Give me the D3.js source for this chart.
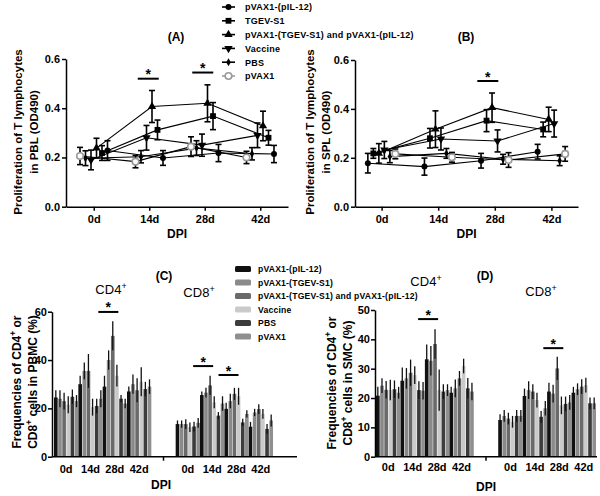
<!DOCTYPE html>
<html><head><meta charset="utf-8">
<script src="https://cdn.jsdelivr.net/npm/d3@7"></script>
<style>
body{margin:0;background:#fff}
svg{display:block;font-family:"Liberation Sans",Arial,sans-serif}
</style>
</head><body>
<svg id="c" width="600" height="496"></svg>
<script>
// ---------- DATA ----------
const days = ["0d","14d","28d","42d"];
const groups = ["pVAX1-(pIL-12)","TGEV-S1","pVAX1-(TGEV-S1) and pVAX1-(pIL-12)","Vaccine","PBS","pVAX1"];
const barGroups = ["pVAX1-(pIL-12)","pVAX1-(TGEV-S1)","pVAX1-(TGEV-S1) and pVAX1-(pIL-12)","Vaccine","PBS","pVAX1"];
const odTicks = [0,0.2,0.4,0.6];

// (A) PBL, OD490 (rows follow groups)
const pblMean = [
  [0.228,0.198,0.218,0.214],
  [0.218,0.312,0.368,0.280],
  [0.238,0.407,0.420,0.328],
  [0.190,0.280,0.250,0.290],
  [0.197,0.203,0.238,0.215],
  [0.206,0.183,0.244,0.200]
];
const pblErr = [
  [0.040,0.030,0.035,0.035],
  [0.030,0.040,0.055,0.030],
  [0.040,0.065,0.075,0.060],
  [0.040,0.050,0.045,0.050],
  [0.030,0.025,0.030,0.025],
  [0.035,0.025,0.040,0.025]
];
// (B) SPL, OD490
const splMean = [
  [0.178,0.164,0.188,0.225],
  [0.218,0.280,0.352,0.316],
  [0.218,0.317,0.405,0.357],
  [0.232,0.277,0.269,0.340],
  [0.205,0.218,0.194,0.188],
  [0.216,0.202,0.191,0.216]
];
const splErr = [
  [0.040,0.035,0.030,0.030],
  [0.020,0.040,0.045,0.030],
  [0.040,0.075,0.060,0.050],
  [0.035,0.045,0.045,0.055],
  [0.025,0.020,0.020,0.020],
  [0.020,0.020,0.030,0.030]
];
// (C) PBMC, %
const pbmcCD4 = [
  [24.5,30.0,29.0,27.0],
  [24.0,35.5,40.0,30.0],
  [23.0,35.5,50.0,27.5],
  [21.5,20.5,33.5,31.0],
  [24.8,21.0,24.0,28.0],
  [23.0,24.0,22.0,29.0]
];
const pbmcCD4Err = [
  [3.0,3.5,4.5,2.0],
  [3.5,3.5,4.0,4.0],
  [3.5,7.0,6.0,5.0],
  [3.5,3.5,4.5,6.0],
  [3.0,3.0,1.5,3.0],
  [2.5,3.5,2.0,3.0]
];
const pbmcCD8 = [
  [13.5,25.5,19.8,12.4],
  [13.5,26.5,23.0,18.3],
  [13.5,29.5,26.0,19.7],
  [12.2,22.5,25.0,17.7],
  [12.5,17.0,14.2,11.5],
  [14.0,22.0,17.7,15.0]
];
const pbmcCD8Err = [
  [1.5,1.5,2.5,2.0],
  [1.5,2.0,3.0,1.5],
  [2.0,4.0,2.5,2.0],
  [2.0,2.5,3.5,2.0],
  [2.0,1.5,1.5,2.0],
  [2.0,3.0,1.5,2.5]
];
// (D) SMC, %
const smcCD4 = [
  [20.8,25.9,33.2,21.8],
  [24.2,26.7,32.7,23.3],
  [22.8,28.6,38.4,26.7],
  [22.7,27.8,22.7,30.9],
  [23.0,22.7,22.2,23.3],
  [21.8,22.5,22.7,22.2]
];
const smcCD4Err = [
  [3.0,4.5,5.0,2.0],
  [2.5,3.5,5.0,3.0],
  [3.0,4.5,5.0,2.5],
  [3.5,3.0,7.0,2.5],
  [3.0,3.0,2.5,3.5],
  [2.0,3.0,2.0,3.0]
];
const smcCD8 = [
  [12.5,20.7,22.2,21.8],
  [13.9,22.7,21.5,23.0],
  [13.0,22.2,30.1,23.9],
  [11.9,19.3,17.5,24.4],
  [13.9,13.6,18.0,18.2],
  [13.9,16.5,18.5,18.2]
];
const smcCD8Err = [
  [2.0,2.5,3.0,2.0],
  [2.0,3.0,3.0,2.0],
  [2.0,2.5,4.0,2.5],
  [2.0,2.5,3.0,2.5],
  [2.0,2.0,2.5,2.0],
  [2.0,2.5,2.5,2.0]
];
// significance marks: [time point, level, horizontal shift]
const sigA = [["14d",0.520,-1],["28d",0.545,-2]];
const sigB = [["28d",0.514,-7]];
const sigC = [["CD4|28d",59.9,-6.5],["CD8|14d",37.5,-9],["CD8|28d",33.8,-8]];
const sigD = [["CD4|28d",46.9,-9],["CD8|28d",37.0,-6]];

// ---------- STYLE ----------
const FONT = '"Liberation Sans",Arial,sans-serif';
const barColors = ["#111111","#8a8a8a","#6a6a6a","#cacaca","#3c3c3c","#8f8f8f"];
const svg = d3.select("#c");

function styleAxis(g, fs){
  g.selectAll("path,line").attr("stroke","#000").attr("stroke-width",1.5);
  g.selectAll("text").attr("font-size",fs).attr("font-weight","bold").attr("fill","#000").attr("font-family",FONT);
}
function markerPath(name, size){
  const t = {"pVAX1-(pIL-12)":d3.symbolCircle,"TGEV-S1":d3.symbolSquare,
    "pVAX1-(TGEV-S1) and pVAX1-(pIL-12)":d3.symbolTriangle,"Vaccine":d3.symbolTriangle,
    "PBS":d3.symbolDiamond,"pVAX1":d3.symbolCircle}[name];
  const s = {"pVAX1-(pIL-12)":28,"TGEV-S1":34,"pVAX1-(TGEV-S1) and pVAX1-(pIL-12)":30,
    "Vaccine":30,"PBS":18,"pVAX1":34}[name];
  return d3.symbol().type(t).size(size||s)();
}
function drawMarker(g, name, cx, cy){
  const p = g.append("path").attr("d", markerPath(name))
    .attr("transform", `translate(${cx},${cy})` + (name==="Vaccine" ? " rotate(180)" : ""));
  if(name==="pVAX1") p.attr("fill","#fff").attr("stroke","#9a9a9a").attr("stroke-width",1.6);
  else p.attr("fill","#000");
}
function ylabel(x, y, lines, fs){
  lines.forEach((ln,i)=>{
    const t = svg.append("text").attr("transform",`translate(${x+i*16},${y}) rotate(-90)`)
      .attr("text-anchor","middle").attr("dy","0.35em")
      .attr("font-size",fs).attr("font-weight","bold").attr("font-family",FONT);
    ln.forEach(part=>{
      if(part.sup) t.append("tspan").attr("baseline-shift","super").attr("font-size",fs*0.7).text(part.t);
      else t.append("tspan").text(part.t);
    });
  });
}
function sigMark(x, y, halfW){
  svg.append("line").attr("x1",x-halfW).attr("x2",x+halfW).attr("y1",y).attr("y2",y)
    .attr("stroke","#000").attr("stroke-width",2);
  svg.append("text").attr("x",x).attr("y",y+0.5).attr("text-anchor","middle")
    .attr("font-size",14).attr("font-weight","bold").attr("font-family",FONT).text("*");
}

// ---------- LINE PANELS ----------
function linePanel(o){
  const x = d3.scalePoint().domain(days).range([o.x0,o.x1]).padding(o.pad);
  const y = d3.scaleLinear().domain([0,0.6]).range([o.yb,o.yt]);
  const inner = d3.scaleBand().domain(o.order).range([-16.5,16.5]);
  const px = (name,d)=> x(d) + inner(name) + inner.bandwidth()/2;

  const ay = svg.append("g").attr("transform",`translate(${o.x0},0)`)
    .call(d3.axisLeft(y).tickValues(odTicks).tickFormat(d3.format(".1f")).tickSize(4).tickSizeOuter(0).tickPadding(2));
  styleAxis(ay, 11);
  const ax = svg.append("g").attr("transform",`translate(0,${o.yb})`)
    .call(d3.axisBottom(x).tickSize(4).tickSizeOuter(0).tickPadding(5));
  styleAxis(ax, 11);

  const g = svg.append("g");
  groups.forEach((name,i)=>{
    const pts = days.map((d,j)=>[px(name,d), y(o.mean[i][j])]);
    g.append("path").attr("d", d3.line()(pts)).attr("fill","none")
      .attr("stroke", "#000").attr("stroke-width",1.1);
  });
  groups.forEach((name,i)=>{
    days.forEach((d,j)=>{
      const cx = px(name,d), m = o.mean[i][j], e = o.err[i][j];
      g.append("line").attr("x1",cx).attr("x2",cx).attr("y1",y(m-e)).attr("y2",y(m+e))
        .attr("stroke","#000").attr("stroke-width",1.6);
      [m-e,m+e].forEach(v=> g.append("line").attr("x1",cx-3).attr("x2",cx+3).attr("y1",y(v)).attr("y2",y(v))
        .attr("stroke","#000").attr("stroke-width",1.6));
    });
  });
  groups.forEach((name,i)=>{
    days.forEach((d,j)=> drawMarker(g, name, px(name,d), y(o.mean[i][j])));
  });
  o.sig.forEach(s=> sigMark(x(s[0])+s[2], y(s[1]), 10.5));

  svg.append("text").attr("x",o.titleX).attr("y",41).attr("text-anchor","middle")
    .attr("font-size",12).attr("font-weight","bold").attr("font-family",FONT).text(o.title);
  svg.append("text").attr("x",(o.x0+o.x1)/2).attr("y",238).attr("text-anchor","middle")
    .attr("font-size",12).attr("font-weight","bold").attr("font-family",FONT).text("DPI");
  ylabel(o.labX, 132, [[{t:"Proliferation of T lymphocytes"}],[{t:o.tissue}]], 11.5);
}

linePanel({x0:66,x1:288,pad:0.5,yb:206.7,yt:59,mean:pblMean,err:pblErr,
  order:groups.slice().reverse(),sig:sigA,title:"(A)",titleX:176,labX:18,tissue:"in PBL (OD490)"});
linePanel({x0:355,x1:578,pad:0.47,yb:206.7,yt:60,mean:splMean,err:splErr,
  order:groups,sig:sigB,title:"(B)",titleX:466,labX:310,tissue:"in SPL (OD490)"});

// top legend
groups.forEach((name,i)=>{
  const yy = 7 + i*13.8;
  svg.append("line").attr("x1",222).attr("x2",235).attr("y1",yy).attr("y2",yy)
    .attr("stroke",name==="pVAX1"?"#9a9a9a":"#000").attr("stroke-width",1.6);
  drawMarker(svg, name, 228.5, yy);
  svg.append("text").attr("x",245).attr("y",yy+3.3).attr("font-size",9).attr("font-weight","bold")
    .attr("letter-spacing",0.25).attr("font-family",FONT).text(name);
});

// ---------- BAR PANELS ----------
const slots = days.map(d=>"CD4|"+d).concat(["gap"], days.map(d=>"CD8|"+d));
function barPanel(o){
  const x = d3.scaleBand().domain(slots).range([o.x0,o.x1]);
  const inner = d3.scaleBand().domain(barGroups).range([0,x.bandwidth()]).paddingInner(0.12);
  const y = d3.scaleLinear().domain([0,o.ymax]).range([456.7,o.yt]);

  const g = svg.append("g");
  [["CD4",o.cd4,o.cd4e],["CD8",o.cd8,o.cd8e]].forEach(([cell,vals,errs])=>{
    barGroups.forEach((name,i)=>{
      days.forEach((d,j)=>{
        const bx = x(cell+"|"+d) + inner(name), v = vals[i][j], e = errs[i][j];
        g.append("rect").attr("x",bx).attr("y",y(v)).attr("width",inner.bandwidth())
          .attr("height",y(0)-y(v)).attr("fill",barColors[i]);
        const cx = bx + inner.bandwidth()/2;
        g.append("line").attr("x1",cx).attr("x2",cx).attr("y1",y(v-e)).attr("y2",y(v+e))
          .attr("stroke","#111").attr("stroke-width",1.3);
      });
    });
  });

  const ay = svg.append("g").attr("transform",`translate(${o.ax},0)`)
    .call(d3.axisLeft(y).ticks(o.ymax/o.step).tickSize(4).tickSizeOuter(0).tickPadding(1));
  styleAxis(ay, 11);
  const ax = svg.append("g").attr("transform",`translate(0,456.7)`)
    .call(d3.axisBottom(x).tickSize(4).tickSizeOuter(0).tickPadding(o.tp)
      .tickFormat(d=> d==="gap" ? "" : d.split("|")[1]));
  ax.select(".domain").attr("d",`M${o.ax},0H${o.axEnd}`);
  ax.selectAll(".tick").filter(d=>d!=="gap").select("line").remove();
  styleAxis(ax, 11);

  o.sig.forEach(s=> sigMark(x(s[0])+x.bandwidth()/2+s[2], y(s[1]), 10));

  svg.append("text").attr("x",o.titleX).attr("y",280).attr("text-anchor","middle")
    .attr("font-size",12).attr("font-weight","bold").attr("font-family",FONT).text(o.title);
  svg.append("text").attr("x",o.dpiX).attr("y",o.dpiY).attr("text-anchor","middle")
    .attr("font-size",12).attr("font-weight","bold").attr("font-family",FONT).text("DPI");
  [["CD4",o.cd4X,o.cd4Y],["CD8",o.cd8X,o.cd8Y]].forEach(([lab,tx,ty])=>{
    const t = svg.append("text").attr("x",tx).attr("y",ty).attr("text-anchor","middle")
      .attr("font-size",13).attr("font-family",FONT);
    t.append("tspan").text(lab);
    t.append("tspan").attr("baseline-shift","super").attr("font-size",9).text("+");
  });
  ylabel(o.labX, o.labY, [
    [{t:"Frequencies of CD4"},{t:"+",sup:true},{t:" or"}],
    [{t:"CD8"},{t:"+",sup:true},{t:" cells in "+o.tissue+" (%)"}]
  ], 12);
}

barPanel({x0:54,x1:273,ax:52,axEnd:297,ymax:60,step:20,yt:311.7,cd4:pbmcCD4,cd4e:pbmcCD4Err,cd8:pbmcCD8,cd8e:pbmcCD8Err,
  sig:sigC,title:"(C)",titleX:164,dpiX:161,dpiY:489,tp:5,cd4X:111,cd4Y:294,cd8X:199,cd8Y:297,
  labX:17,labY:382,tissue:"PBMC"});
barPanel({x0:376,x1:596,ax:375,axEnd:597,ymax:50,step:10,yt:310,cd4:smcCD4,cd4e:smcCD4Err,cd8:smcCD8,cd8e:smcCD8Err,
  sig:sigD,title:"(D)",titleX:485,dpiX:486,dpiY:491,tp:3,cd4X:426,cd4Y:286,cd8X:541,cd8Y:296,
  labX:332,labY:383,tissue:"SMC"});

// bottom legend
barGroups.forEach((name,i)=>{
  const yy = 269 + i*13.5;
  svg.append("rect").attr("x",235).attr("y",yy-3).attr("width",16).attr("height",6).attr("rx",1.5)
    .attr("fill",barColors[i]);
  svg.append("text").attr("x",258).attr("y",yy+3.2).attr("font-size",8.6).attr("font-weight","bold")
    .attr("letter-spacing",0.2).attr("font-family",FONT).text(name);
});
</script>
</body></html>
